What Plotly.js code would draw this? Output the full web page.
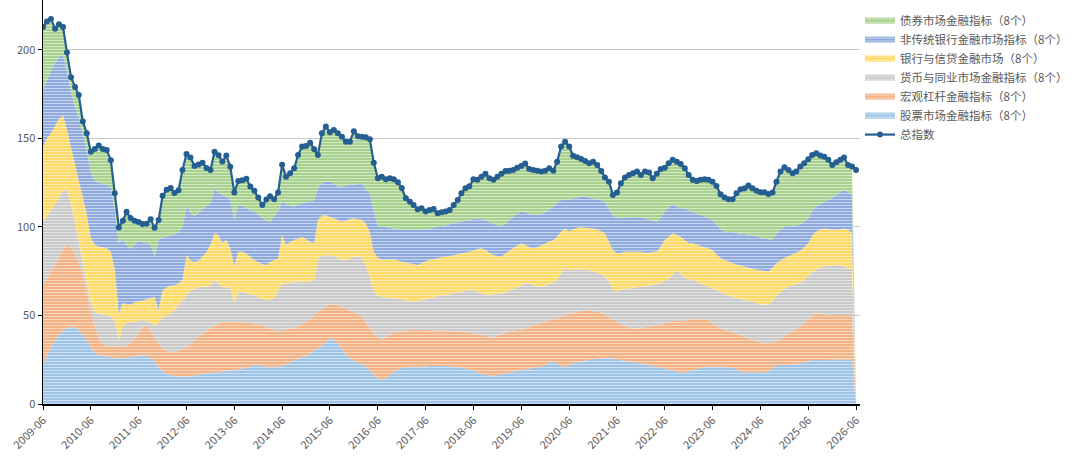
<!DOCTYPE html>
<html>
<head>
<meta charset="utf-8">
<script src="https://cdn.plot.ly/plotly-3.0.1.min.js"></script>
<style>
  html, body { margin: 0; padding: 0; background: #fff; }
  #chart { width: 1080px; height: 459px; }
</style>
</head>
<body>
<div id="chart"></div>
<script>
// monthly series, 2009-06 .. 2026-06
const startYear = 2009, startMonth = 6, nMonths = 205;

const seriesNames = [
  '股票市场金融指标（8个）',
  '宏观杠杆金融指标（8个）',
  '货币与同业市场金融指标（8个）',
  '银行与信贷金融市场（8个）',
  '非传统银行金融市场指标（8个）',
  '债券市场金融指标（8个）'
];
const totalName = '总指数';

const stock = [
  22,27,32,36,39,41.5,43,43.5,43,42,39,36,32,29,27.5,27,27,26.5,26,26,26,26,26.5,27,27,27.5,27.5,26,24,21,18.5,17,16.5,16,15.5,15.5,15.5,15.5,16,16.5,17,
  17.3,17.5,17.7,18,18.3,18.7,19,19.2,19.5,20,20.5,21,22,22,21.5,21,21,21,21,21.5,22.5,23.5,24.5,25.5,26.5,27,28.5,30,31.5,33,35,37,36.5,34,31,28,26,24.5,23.5,22.5,
  21,19,16.5,14,13.5,14.5,16.5,18.5,19.5,20.5,21,21,21,21,21,21.2,21.4,21.5,21.5,21.5,21.5,21.2,21,21,20.5,20,19.5,19,18,17,16.5,16,16,16.3,16.8,17.3,17.8,18.4,18.8,19.2,
  19.5,20,20.5,20.8,21,22,23.5,23.9,23,21.5,21,22,23,23.5,24,24.5,24.9,25.2,25.5,25.7,25.8,25.8,25.5,25,24.7,24.4,24,23.6,23.2,23,22.5,22,21.5,21,20.5,20,19.5,19,18.3,17.7,
  18,18.5,19.2,19.8,20.3,20.7,21,21,21,21,21,21,20.5,19.5,18.5,18,18,18,18,18,18,18.5,20,22,22,22,22,22,22.5,23,23.5,24.2,24.9,24.9,24.9,24.9,24.9,25,25,25,25.1,25.2,25.2,0
];
const macro = [
  45,44,43,43,44,45.5,47,45.5,42,38,34,27,21,15,9.5,7,6,6,6.5,6.5,6.5,7,8.5,10,13,15.5,17,15,14,13,13,13,13,13.5,14.5,15.5,16.5,18.5,20,22,23,
  23.7,25.5,26.3,27.5,28.2,27.8,27.5,27.3,27,26.5,25.5,24.8,23.5,23,22.5,22.5,21.5,20.5,20,20,19.5,19,18.5,18.2,18.5,19.5,19,20,20.5,20.5,20,19.5,19.8,22,24,26,27,27.5,27.5,27,
  25,24,23.5,23.5,23,23.5,23,22,21.5,20.8,20.5,20.8,20.8,20.8,20.8,20.6,20.3,20.1,20,20,20,20.1,20,20,20.4,20.5,20.7,21,21.6,22,22,22,22,22.2,22.7,23,23.2,23.1,23,22.8,
  23,23.3,23.8,24.4,24.8,24.5,23.7,24.1,25.6,27.8,29,29,28.5,28.5,28.5,28.2,27.7,27.2,26.7,25.8,24.7,23.5,22.5,21.5,20.5,19.6,19.2,19.1,19.6,20,20.8,21.6,22.5,23.5,24.5,25.6,26.7,28,28.9,29.1,
  29,29,28.6,28.2,27.9,27.7,26.5,24.6,23,21.8,20.8,20.2,20.1,20.5,20.5,20,19,18.2,17.5,17,16.3,16,15,13.2,14.5,16,18,19.2,20,20.5,22,23.8,25.1,26.3,26.1,25.7,25.4,25.3,25.3,25.3,25.2,25.1,25.1,0
];
const money = [
  36,35,34,34,34,33.5,31,24,18,12,7,5,5,8,14,16.5,17,17,14.5,3.5,11.5,13,11.5,9.5,7,4.5,2.5,5,6,12,17.5,20,21.5,23.5,26,27.5,30,30,29,27.5,26,
  25.3,24,26,22.5,19.5,19.5,19,10.5,16.5,17,16.5,16.2,16,15.5,15.5,15.3,16.3,18.5,23,26.5,26,26,26,25.3,24,22.5,21.5,20,30,30,29,27.5,27.2,26.5,26.5,27,29,31,32.2,33.5,
  32,29,24,23.5,24.1,22.3,20.5,19.2,18.5,17.7,17,16.2,16,16.2,16.9,17.4,18,18.7,19.3,19.8,20.1,20.7,21.5,22,22.6,23.5,24,24.4,23.9,23.5,23.1,23.8,24,23.8,23,22.7,23,23.5,24.2,25,
  26,24.7,22.7,21.3,20.5,20.5,20.4,20.3,21.4,24.7,26.6,24.5,24.2,24,23.5,23.1,22.9,22.6,21.8,21.9,21.5,20.2,16.5,17,19.3,21,22.1,22.9,23.2,23.2,23.2,23.2,23.2,23.3,23.5,23.9,24.3,26,28.5,26.7,
  24.5,23,22.2,21,19.8,18.8,18.7,19.6,20.4,20.5,20.5,20,20,20,20.4,20.8,21.3,21.4,21.5,21.5,21.7,21.5,23,26.4,26.8,27,26.3,25.8,25.3,25.1,24.5,24.5,24.5,24.6,26,27,27.7,28,28.2,27.9,27.3,26.5,25.4,0
];
const bank = [
  42,44,44,44,44,42.5,34,32,32,34,37,39,36,38,38,38,38,36.5,29,15,13,10.5,9.5,11,11,11,12,14,16.5,7,15,16,16,14,12,11.5,22,17,15,15,17,
  19.7,23,26.4,27,25,26.7,22.5,20.6,23,22.5,22.5,21,19.9,19.5,19.5,19.7,21.2,21.4,18,27.5,21.8,23,23.7,24.5,25.5,24,22.5,20.8,22,23,22.8,21.5,21.4,21.5,21.5,22.5,22.5,21.9,21.1,21,
  24,25,22,21.5,20.9,21.2,21.6,22,21.5,21.3,21.3,21.5,21.2,20.5,20.8,21.3,21.7,21.5,21.5,21.5,21.6,21.6,21.5,21.5,21.5,21.5,21.8,22.1,24,25.5,25.4,23.7,22.2,21.2,20.7,22,22.5,23,23.5,23.8,
  21.5,20.5,21,22,23.2,23.5,24.2,24.4,24.5,23.5,22.6,21.9,22.8,23.5,23.8,23.8,23.9,24.2,24.5,24.1,24.4,22,22.5,21.5,21,21,20.7,20.4,20,19.8,19,18.7,18.8,18.2,20.5,23.2,24,23.4,19.8,21,
  21,20.5,20.8,21,21.3,21.3,21.6,21.8,20.1,19,19,19.3,18.9,18.8,18.8,18.8,18.7,18.8,18.8,19,19.2,18.8,19,17.9,17.7,17.5,17.2,17.5,17.7,17.9,18.5,18.3,20.5,21.6,21.5,21.6,20.8,20.2,19.8,20.6,21.6,21.7,20.7,0
];
const nonbank = [
  32.4,33,35,36,35,34,33,31,33,36,35,36,37,36,36,36,36,36,34,40,36,33.5,31.5,32.5,34.5,33,32,30,23,40,30,28.5,28,29,29,30,28,27,26,27,27,
  26,23.4,25.4,24.5,27,24.3,28,26.4,26,26,25.5,26.5,27.3,27,26,25,23,24.6,26.7,18.8,23.2,20.3,18.8,19,18.9,21,23,24.5,18,18.2,18.7,20.1,19.6,19,19.8,19.8,19.2,19.1,20,20.7,
  19.5,22,23,18.5,18.7,18.3,17.9,17.5,18,18.5,18.7,18.8,19.3,20,19.2,18.2,17.6,17.7,17.7,17.7,17.8,18,18.2,18.1,18,18,18,18,17.4,16.5,16.8,17.5,17.8,17.5,17.2,17,17.5,17.8,18,17.9,
  18.5,19,19,18.3,17.8,17.8,17.8,18.8,19,17.8,16.1,18.1,17.7,17.2,17.3,17.4,17.2,17,17.2,17.5,17.9,18.5,19.8,20.3,19.4,19.2,19.5,19.8,19.5,19.2,19.4,18.8,17.6,17,16.5,16,16.5,16.6,16,16,
  18,18.5,17.7,17.5,17.5,17.5,17.2,17,17,16.2,16.1,16.7,17.5,17.8,18,18.4,18.7,18.9,19,18.7,18.4,18.2,15.7,16.9,17.5,17.5,16.7,16.1,15.5,15,14.5,14.2,14,14.1,14.5,15,16.5,18,19.7,21.2,21.7,21,21.7,0
];
const bond = [
  35.6,33,29.5,19,18.5,16,10.5,8.6,11,12.5,7.5,10,11.5,18,21,19.5,19.5,15.7,9,8.7,10.5,18.6,17.5,13.5,10.3,10.2,10.8,14.3,16,11,23.6,26.5,27,23.2,23.8,32.2,29.2,31.3,28.4,27.3,26.3,
  21.3,18.8,20.7,21,19,23.3,18,15.5,14,14.4,16.8,13.3,11.7,9.7,7.4,12,14.4,9.7,10.7,20.9,15.3,18.6,21.7,28.2,32,31.8,33.1,28.6,18.7,28.2,31.2,27.9,30.3,30,28.2,24.9,24.5,30.1,27,26.3,
  29.2,30.5,27.2,26.5,28.2,27.2,28,27.8,26.2,23.2,17.7,16,14.1,11.5,11.8,10,10.6,10.7,7.7,7.8,7.7,8,10.2,12.7,16,18.4,19,22.4,21.7,23.9,26.2,24.5,24.6,27.4,29.6,29.6,27.8,26.4,26,25.8,
  27.3,25.3,25.2,25,24,23.5,23.5,20.3,23.4,30.1,32.9,29.9,24,22.7,21.3,20.3,19.4,20.7,19.3,16.6,13.7,15.6,11.3,14.1,19.8,22.7,23.9,24.6,25.8,24.2,26.4,26.4,23.9,27,27.3,24.8,25,24.9,25.4,25,
  22.6,19.9,18.1,18.5,19.8,20.9,21.6,21.6,21.7,20,19.2,18.4,18.6,22.4,25.1,25.8,27.7,26.5,25.7,25.4,26,25.6,26.7,29.2,32.8,33.7,32,29.7,30.3,32.7,33,33.2,31.7,30.1,27.3,25.5,22.6,18.5,18.5,17.9,18.3,15.5,16,0
];
const total = [
  213,216,217.5,212,214.5,213,198.5,184.6,179,174.5,159.5,153,142.5,144,146,144,143.5,137.7,119,99.7,
  103.5,108.6,105,103.5,102.8,101.7,101.8,104.3,99.5,104,117.6,121,122,119.2,120.8,132.2,141.2,139.3,134.4,135.3,
  136.3,133.3,132.2,142.5,140.5,137,140.3,134,119.5,126,126.4,127.3,122.8,120.4,116.7,112.4,115.5,117.4,115.7,119.4,
  135.2,128.3,130.4,133.2,140.7,145.4,145.8,147.6,143.9,140.7,152.9,156.7,153.5,154.8,153,151,148.2,148.2,154.1,151.3,
  151,150.7,149.5,136.2,127.5,128.4,127,127.5,127,125.2,122,116.2,114.3,112.4,110,110.5,108.7,109.6,110.2,107.7,
  108.3,108.7,109.6,112.4,115.3,119,121.9,123,126.9,126.6,128.4,130,127.5,126.6,128.4,130,131.6,131.8,132.2,133.5,
  134.5,135.8,132.8,132.2,131.8,131.3,131.8,133.1,131.8,136.9,145.4,148.2,145.4,140.2,139.4,138.4,137.3,136,136.9,135,
  131.6,128,125.6,118.1,119.4,124.7,127.9,129.4,130.4,131.3,129.4,131.3,130.7,127.5,130,132.8,133.5,136,137.9,136.9,
  135.5,133.1,129.4,126.6,126,126.6,126.9,126.6,125.6,123.2,118.5,116.6,115.6,115.6,119,121.3,121.8,123.4,121.8,120.5,
  119.6,119.6,118.6,119.4,125.6,131.3,133.7,132.2,130.3,131.3,134.2,136,138.2,140.7,141.6,140.3,139.7,137.9,135,136.5,
  137.9,139.2,135,134.1,132.2
];

const colors = ['#9dc3e6', '#f4b183', '#c9c9c9', '#ffd966', '#8faadc', '#a9d18e'];
const lineColor = '#255e91';

const months = [];
for (let k = 0; k < nMonths; k++) {
  const m = startMonth - 1 + k;
  const y = startYear + Math.floor(m / 12);
  const mm = (m % 12) + 1;
  months.push(y + '-' + (mm < 10 ? '0' + mm : mm) + '-01');
}

const layers = [stock, macro, money, bank, nonbank, bond];
const data = layers.map((vals, idx) => ({
  x: months,
  y: vals,
  name: seriesNames[idx],
  type: 'scatter',
  mode: 'none',
  stackgroup: 'one',
  fillcolor: colors[idx],
  fillpattern: {
    shape: '-',
    bgcolor: colors[idx],
    fgcolor: '#ffffff',
    fgopacity: 0.55,
    size: 3,
    solidity: 0.3
  },
  legendrank: 6 - idx
}));

data.push({
  x: months,
  y: total,
  name: totalName,
  type: 'scatter',
  mode: 'lines+markers',
  line: { color: lineColor, width: 2.2 },
  marker: { color: lineColor, size: 6 },
  legendrank: 7
});

const tickFont = { family: 'Noto Sans CJK SC, sans-serif', size: 11, color: '#595959' };

const layout = {
  width: 1080,
  height: 459,
  margin: { l: 43, r: 220, t: 0, b: 55, autoexpand: false },
  paper_bgcolor: '#ffffff',
  plot_bgcolor: '#ffffff',
  showlegend: true,
  legend: {
    x: 1.0, y: 0.985, xanchor: 'left', yanchor: 'top',
    traceorder: 'normal',
    font: { family: 'Noto Sans CJK SC, sans-serif', size: 11.5, color: '#595959' },
    bgcolor: 'rgba(0,0,0,0)',
    tracegroupgap: 0
  },
  xaxis: {
    type: 'date',
    range: ['2009-06-01', '2026-07-01'],
    tick0: '2009-06-01',
    dtick: 'M12',
    tickformat: '%Y-%m',
    tickangle: -45,
    ticks: 'outside',
    ticklen: 4,
    tickcolor: '#000',
    showline: true,
    linecolor: '#000',
    linewidth: 1.5,
    showgrid: false,
    zeroline: false,
    tickfont: tickFont
  },
  yaxis: {
    range: [0, 228.2],
    tickvals: [0, 50, 100, 150, 200],
    ticks: 'outside',
    ticklen: 4,
    tickcolor: '#000',
    showline: true,
    linecolor: '#000',
    linewidth: 1.5,
    showgrid: true,
    gridcolor: '#c8c8c8',
    gridwidth: 1,
    zeroline: false,
    tickfont: tickFont
  }
};

Plotly.newPlot('chart', data, layout, { displayModeBar: false, staticPlot: true });
</script>
</body>
</html>
